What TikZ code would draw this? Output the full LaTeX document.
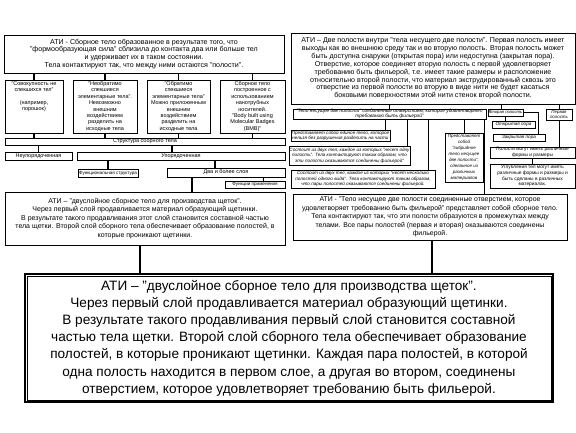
\documentclass[tikz,border=0pt]{standalone}
\usepackage{fontspec}
\setmainfont{Liberation Sans}
\newcommand\fbig{\fontsize{13.6}{17.2}\selectfont}
\newcommand\fmid{\fontsize{7.1}{7.9}\selectfont}
\newcommand\flow{\fontsize{7}{8.6}\selectfont}
\newcommand\fsml{\fontsize{5.5}{6.4}\selectfont}
\newcommand\ftin{\fontsize{4.6}{5.4}\selectfont}
\begin{document}
\begin{tikzpicture}[x=1pt,y=-1pt,
  box/.style={draw,line width=0.7pt,inner sep=0.5pt,align=center},
  wh/.style 2 args={minimum width=#1pt,minimum height=#2pt},
  ln/.style={line width=0.7pt},
  lnm/.style={line width=1.1pt},
  lnt/.style={line width=2pt}]
  \useasboundingbox (0,0) rectangle (576,432);

  % left branch
  \node[box,wh={280}{38},font=\fmid] (tl) at (144,54)
    {АТИ - Сборное тело образованное в результате того, что\\
     "формообразующая сила" сблизила до контакта два или больше тел\\
     и удерживает их в таком состоянии.\\
     Тела контактируют так, что между ними остаются "полости".};

  \node[box,wh={58}{53}] (s1) at (34,106.5) {};
  \node[font=\fsml,align=center,anchor=north] (s1txt) at ([yshift=2pt]s1.north)
    {"Совокупность не\\спекшихся тел"\\[6.4pt](например,\\порошок)};
  \node[box,wh={64}{53},font=\fsml] (s2) at (105,106.5)
    {"Необратимо\\спекшиеся\\элементарные тела".\\Невозможно\\внешним\\воздействием\\разделить на\\исходные тела};
  \node[box,wh={63}{53},font=\fsml] (s3) at (178.5,106.5)
    {"Обратимо\\спекшиеся\\элементарные тела"\\Можно приложенным\\внешним\\воздействием\\разделить на\\исходные тела};
  \node[box,wh={65}{53},font=\fsml] (s4) at (252.5,106.5)
    {Сборное тело\\построенное с\\использованием\\нанотрубных\\носителей.\\"Body built using\\Molecular Badges\\(BMB)"};

  \node[box,wh={280}{7},font=\fsml] (st) at (145,141.5) {Структура сборного тела};
  \node[box,wh={67}{8},font=\fsml] (nu) at (38.5,156) {Неупорядоченная};
  \node[box,wh={208}{8},font=\fsml] (up) at (181,156) {Упорядоченная};
  \node[box,wh={60}{8},font=\ftin] (fs) at (108,173) {Функциональная структура};
  \node[box,wh={118}{9},font=\fsml] (dv) at (226,172.5) {Два и более слоя};
  \node[box,wh={60}{7},font=\ftin] (fp) at (255,184.5) {Функции применения};

  \node[box,wh={280}{53},font=\flow] (ll) at (145,218.5)
    {АТИ – "двуслойное сборное тело для производства щеток".\\
     Через первый слой продавливается материал образующий щетинки.\\
     В результате такого продавливания этот слой становится составной частью\\
     тела щетки. Второй слой сборного тела обеспечивает образование полостей, в\\
     которые проникают щетинки.};

  \foreach \s in {s1,s2,s3,s4}{
    \draw[lnm] (tl.south -| \s.north) -- (\s.north);
    \draw[lnm] (\s.south) -- (\s.south |- st.north);
  }
  \draw[lnm] (st.south -| nu.north) -- (nu.north);
  \draw[lnm] ([xshift=-9pt]up.north) -- ([xshift=-9pt]up.north |- st.south);
  \draw[lnm] (up.south -| fs.north) -- (fs.north);
  \draw[lnt] ([xshift=-11pt]dv.north) -- ([xshift=-11pt]dv.north |- up.south);
  \draw[ln] ([xshift=8pt]fp.north) -- ([xshift=8pt]fp.north |- dv.south);
  \draw[lnt] ([xshift=-34pt]dv.south) -- ([xshift=-34pt]dv.south |- ll.north);

  % right branch
  \node[box,wh={284}{71},font=\fmid] (tr) at (433,68.5)
    {АТИ – Две полости внутри "тела несущего две полости". Первая полость имеет\\
     выходы как во внешнюю среду так и во вторую полость. Вторая полость может\\
     быть доступна снаружи (открытая пора) или недоступна (закрытая пора).\\
     Отверстие, которое соединяет вторую полость с первой удовлетворяет\\
     требованию быть фильерой, т.е. имеет такие размеры и расположение\\
     относительно второй полости, что материал экструдированный сквозь это\\
     отверстие из первой полости во вторую в виде нити не будет касаться\\
     боковыми поверхностями этой нити стенок второй полости.};

  \node[box,wh={193}{10},font=\fontsize{4.8}{4.8}\selectfont\itshape] (tn) at (389.5,114)
    {"Тело несущее две полости" соединенные отверстием, которое удовлетворяет\\
     требованию быть фильерой"};
  \node[box,wh={31}{7},font=\fontsize{4.2}{4.8}\selectfont\itshape] (vt) at (505.5,112.5) {Вторая полость};
  \node[box,wh={26}{11},font=\fontsize{4.4}{4.8}\selectfont\itshape] (pp) at (559,114.5) {Первая\\полость};

  \node[box,wh={99}{11},font=\ftin\itshape] (b1) at (340.5,135.5)
    {Представляет собой единое тело, которое\\нельзя без разрушения разделить на части};
  \node[box,wh={117}{19},font=\ftin\itshape] (b2) at (349.5,155.5)
    {Состоит из двух тел, каждое из которых "несет одну\\
     полость". Тела контактируют таким образом, что\\
     эти полости оказываются соединены фильерой"};
  \node[box,wh={144}{18},font=\ftin\itshape] (b3) at (363,179)
    {Состоит из двух тел, каждое из которых "несет несколько\\
     полостей одного вида". Тела контактируют таким образом,\\
     что пары полостей оказываются соединены фильерой.};
  \node[box,wh={38}{49},font=\fontsize{4.5}{6}\selectfont\itshape] (pg) at (464,157.5)
    {Представляет\\собой\\"гибридное\\тело несущее\\две полости",\\сделанное из\\различных\\материалов};

  \node[box,wh={43}{7},font=\ftin\itshape] (ot) at (513.5,124.5) {Открытая пора};
  \node[box,wh={52}{7},font=\ftin\itshape] (zt) at (519,137.5) {Закрытая пора};
  \node[box,wh={85}{11},font=\fontsize{4.8}{5.4}\selectfont] (pm) at (532.5,152.5)
    {Полости могут иметь различные\\формы и размеры};
  \node[box,wh={85}{24},font=\fontsize{4.8}{5.6}\selectfont] (ug) at (532.5,176)
    {Углубления тел могут иметь\\различные формы и размеры и\\быть сделаны в различных\\материалах.};

  \node[box,wh={274}{46},font=\fontsize{6.9}{8.4}\selectfont] (lr) at (430,217)
    {АТИ - "Тело несущее две полости соединенные отверстием, которое\\
     удовлетворяет требованию быть фильерой" представляет собой сборное тело.\\
     Тела контактируют так, что эти полости образуются в промежутках между\\
     телами. Все пары полостей (первая и вторая) оказываются соединены\\
     фильерой.};

  \draw[lnm] (tr.south -| tn.north) -- (tn.north);
  \draw[ln] ([xshift=-4.5pt]vt.north) -- ([xshift=-4.5pt]vt.north |- tr.south);
  \draw[ln] (tr.south -| pp.north) -- (pp.north);
  \draw[ln] ([xshift=-5pt]b1.north east) -- ([xshift=-5pt]b1.north east |- tn.south);
  \draw[ln] ([xshift=-3pt]b2.north east) -- ([xshift=-3pt]b2.north east |- tn.south);
  \draw[ln] ([xshift=-7pt]b3.north east) -- ([xshift=-7pt]b3.north east |- tn.south);
  \draw[ln] (pg.north) -- (pg.north |- tn.south);
  \draw[ln] ([xshift=-2pt]tn.south east) -- ([xshift=-2pt]tn.south east |- lr.north);
  \draw[ln] (vt.south) -- (vt.south |- ot.north);
  \draw[ln] (vt.east) -| ([xshift=19pt]zt.north);
  \draw[ln] (pp.south) -- (pp.south |- pm.north);
  \draw[ln] (pm.south) -- (ug.north);

  % common result
  \node[draw,line width=1.6pt,wh={528}{128},align=center,font=\fbig] (big) at (289,338)
    {АТИ – "двуслойное сборное тело для производства щеток".\\
     Через первый слой продавливается материал образующий щетинки.\\
     В результате такого продавливания первый слой становится составной\\
     частью тела щетки. Второй слой сборного тела обеспечивает образование\\
     полостей, в которые проникают щетинки. Каждая пара полостей, в которой\\
     одна полость находится в первом слое, а другая во втором, соединены\\
     отверстием, которое удовлетворяет требованию быть фильерой.};
  \draw[line width=0.5pt] ([shift={(2.6,2.6)}]big.north west) rectangle ([shift={(-2.6,-2.6)}]big.south east);

  \draw[lnt] ([xshift=-5pt]ll.south) -- ([xshift=-5pt]ll.south |- big.north);
  \draw[lnt] ([xshift=2pt]lr.south) -- ([xshift=2pt]lr.south |- big.north);
\end{tikzpicture}
\end{document}
